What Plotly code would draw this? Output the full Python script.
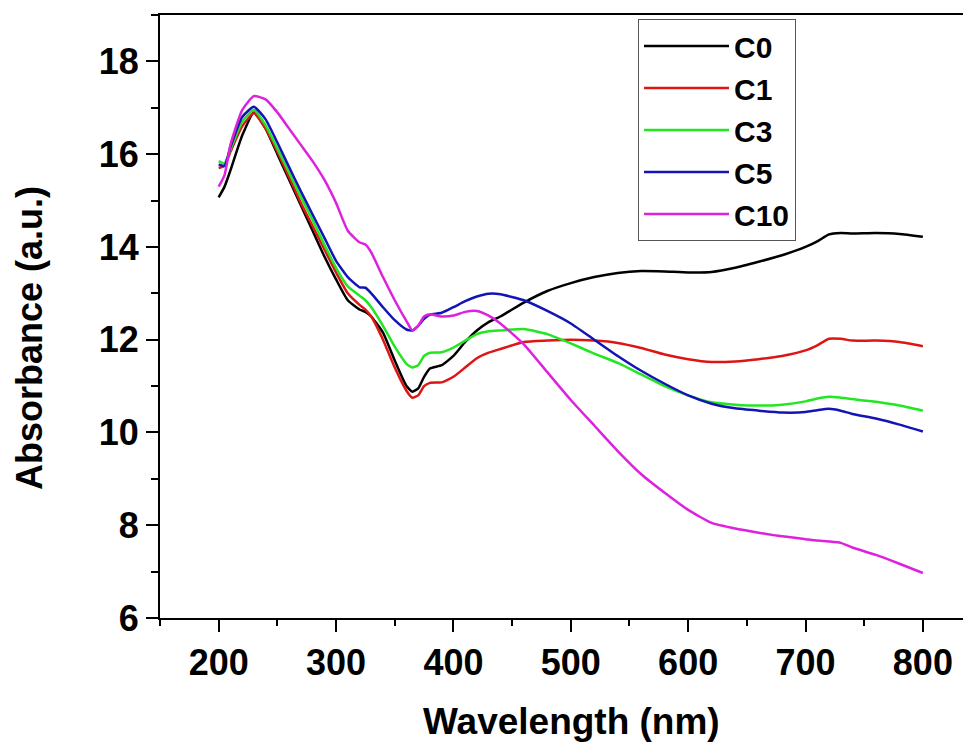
import plotly.graph_objects as go

WAVELENGTH = [200, 205, 210, 220, 230, 240, 250, 260, 270, 280,
              290, 300, 310, 320, 325, 330, 340, 350, 360, 365,
              370, 375, 380, 390, 400, 410, 420, 430, 440, 460,
              480, 500, 520, 540, 560, 580, 600, 620, 640, 660,
              680, 700, 710, 720, 730, 740, 760, 780, 800]

C0 = [15.07, 15.3, 15.65, 16.4, 16.9, 16.55, 16.0, 15.45, 14.9, 14.35,
      13.8, 13.3, 12.85, 12.65, 12.6, 12.5, 12.15, 11.55, 11.0, 10.88,
      10.95, 11.2, 11.38, 11.45, 11.65, 11.95, 12.2, 12.38, 12.5, 12.8,
      13.05, 13.22, 13.35, 13.44, 13.48, 13.47, 13.45, 13.46, 13.55, 13.68,
      13.82, 14.0, 14.12, 14.27, 14.3, 14.29, 14.3, 14.28, 14.22]

C1 = [15.7, 15.75, 16.05, 16.6, 16.88, 16.55, 16.05, 15.5, 14.95, 14.45,
      13.95, 13.45, 13.0, 12.75, 12.65, 12.5, 12.0, 11.4, 10.9, 10.75,
      10.8, 11.0, 11.07, 11.08, 11.2, 11.4, 11.6, 11.72, 11.8, 11.95,
      11.98, 12.0, 11.98, 11.93, 11.82, 11.68, 11.58, 11.52, 11.53, 11.58,
      11.65, 11.77, 11.88, 12.02, 12.02, 11.98, 11.98, 11.95, 11.86]

C3 = [15.85, 15.8, 16.1, 16.7, 16.95, 16.62, 16.12, 15.6, 15.08, 14.58,
      14.05, 13.55, 13.15, 12.95, 12.85, 12.7, 12.3, 11.85, 11.48, 11.4,
      11.45, 11.65, 11.72, 11.73, 11.83, 11.98, 12.12, 12.18, 12.2, 12.23,
      12.12, 11.92, 11.7, 11.5, 11.25, 11.0, 10.8, 10.65, 10.6, 10.58,
      10.6, 10.67, 10.73, 10.77, 10.75, 10.72, 10.66, 10.58, 10.47]

C5 = [15.78, 15.75, 16.15, 16.8, 17.02, 16.75, 16.25, 15.72, 15.2, 14.7,
      14.2, 13.7, 13.35, 13.13, 13.12, 13.0, 12.7, 12.42, 12.22, 12.2,
      12.3, 12.45, 12.54, 12.58, 12.7, 12.83, 12.93, 12.99, 12.98, 12.85,
      12.62, 12.35, 12.0, 11.65, 11.33, 11.05, 10.8, 10.62, 10.52, 10.47,
      10.43, 10.44, 10.48, 10.51, 10.47, 10.4, 10.3, 10.17, 10.02]

C10 = [15.3, 15.55, 16.2, 16.95, 17.25, 17.18, 16.9, 16.55, 16.2, 15.85,
       15.45, 14.95, 14.35, 14.1, 14.05, 13.88, 13.35, 12.85, 12.4, 12.2,
       12.3, 12.5, 12.55, 12.5, 12.52, 12.6, 12.62, 12.52, 12.35, 11.9,
       11.3, 10.7, 10.15, 9.6, 9.1, 8.7, 8.33, 8.05, 7.93, 7.84,
       7.76, 7.7, 7.67, 7.65, 7.62, 7.52, 7.36, 7.17, 6.97]

SERIES_NAMES = ["C0", "C1", "C3", "C5", "C10"]
SERIES_VALUES = [C0, C1, C3, C5, C10]
COLORS = ["#000000", "#dd1515", "#22e622", "#1414b4", "#dd22dd"]

X_TITLE = "Wavelength (nm)"
Y_TITLE = "Absorbance (a.u.)"

FONT = "Arial, 'Liberation Sans', sans-serif"

# page body has an 8px margin; figure is sized so the plot area sits at
# x 160..971 and y 15..618 of the window
W, H = 963, 734
ML, MT, MB = 152, 7, 124
PW, PH = W - ML, H - MT - MB


def px_x(page_x):
    return (page_x - 8 - ML) / PW


def px_y(page_y):
    return (H - MB - (page_y - 8)) / PH


fig = go.Figure()
for name, vals, col in zip(SERIES_NAMES, SERIES_VALUES, COLORS):
    fig.add_trace(go.Scatter(x=WAVELENGTH, y=vals, mode="lines", name=name,
                             line=dict(color=col, width=2.5, shape="spline", smoothing=0.5)))

axis_common = dict(
    showgrid=False, zeroline=False, showline=True, linecolor="black", linewidth=2,
    ticks="outside", ticklen=12, tickwidth=2, tickcolor="black",
    tickfont=dict(family=FONT, size=36, color="black", weight="bold"),
)

fig.update_xaxes(range=[150, 841], tick0=200, dtick=100, mirror=True,
                 minor=dict(dtick=50, tick0=150, ticks="outside", ticklen=6, tickwidth=2, tickcolor="black"),
                 **axis_common)
fig.update_yaxes(range=[6, 19], tick0=6, dtick=2,
                 minor=dict(dtick=1, tick0=6, ticks="outside", ticklen=7, tickwidth=2, tickcolor="black"),
                 **axis_common)

fig.add_annotation(text=X_TITLE, xref="paper", yref="paper", x=px_x(571), y=px_y(721),
                   showarrow=False, font=dict(family=FONT, size=37, color="black", weight="bold"),
                   xanchor="center", yanchor="middle")
fig.add_annotation(text=Y_TITLE, xref="paper", yref="paper", x=px_x(29), y=px_y(338),
                   showarrow=False, textangle=-90,
                   font=dict(family=FONT, size=36, color="black", weight="bold"),
                   xanchor="center", yanchor="middle")

fig.update_layout(
    width=W, height=H,
    margin=dict(l=ML, r=0, t=MT, b=MB, autoexpand=False),
    plot_bgcolor="white", paper_bgcolor="white",
    legend=dict(x=px_x(638), y=px_y(19), xanchor="left", yanchor="top",
                bordercolor="#555555", borderwidth=1, bgcolor="white",
                font=dict(family=FONT, size=30, color="black", weight="bold"),
                tracegroupgap=0, itemwidth=85),
    showlegend=True,
)

fig.write_html("out.html")
